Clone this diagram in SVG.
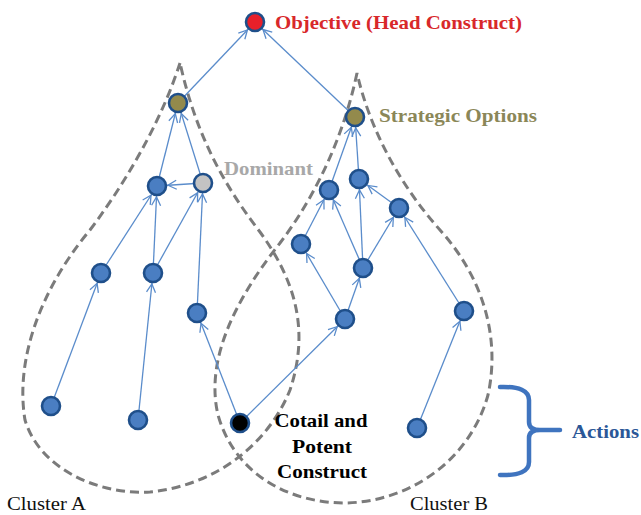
<svg xmlns="http://www.w3.org/2000/svg" width="641" height="515" viewBox="0 0 641 515">
<style>
.cl{fill:none;stroke:#7b7b7b;stroke-width:3;stroke-dasharray:9 5}
.e{fill:none;stroke:#5a8ccb;stroke-width:1.3;marker-end:url(#ah)}
.n{stroke:#1f4f8a;stroke-width:2.6}
.b{fill:#4a7ec2}
.t{font-family:"Liberation Serif","Times New Roman",serif;font-weight:bold;font-size:19px}
.r{font-family:"Liberation Serif","Times New Roman",serif;font-size:19px;fill:#111}
</style>
<defs>
<marker id="ah" markerUnits="userSpaceOnUse" markerWidth="30" markerHeight="12" viewBox="0 0 30 12" refX="19.5" refY="6" orient="auto" overflow="visible">
<path d="M0,1.5 L8.5,6 L0,10.5" fill="none" stroke="#5a8ccb" stroke-width="1.3"/>
</marker>
</defs>
<rect width="641" height="515" fill="#ffffff"/>
<g id="clusters">
<path id="clusterA" class="cl" d="M180,63 C165,110 135,170 90,230 C40,290 15,360 25,420 C40,470 100,495 150,492 C220,485 270,440 290,390 C310,330 295,280 260,232 C220,180 195,130 180,63 Z"/>
<path id="clusterB" class="cl" d="M357,73 C345,130 320,190 280,243 C235,300 205,360 218,415 C235,475 290,503 345,503 C410,502 470,460 488,395 C500,340 485,280 440,230 C400,185 370,130 357,73 Z"/>
</g>
<g id="connectors">
<line class="e" x1="178" y1="103" x2="255" y2="22"/>
<line class="e" x1="355" y1="117" x2="255" y2="22"/>
<line class="e" x1="157" y1="186" x2="178" y2="103"/>
<line class="e" x1="203" y1="183" x2="178" y2="103"/>
<line class="e" x1="203" y1="183" x2="157" y2="186"/>
<line class="e" x1="101" y1="273" x2="157" y2="186"/>
<line class="e" x1="153" y1="273" x2="157" y2="186"/>
<line class="e" x1="153" y1="273" x2="203" y2="183"/>
<line class="e" x1="197" y1="313" x2="203" y2="183"/>
<line class="e" x1="51" y1="406" x2="101" y2="273"/>
<line class="e" x1="138" y1="420" x2="153" y2="273"/>
<line class="e" x1="240" y1="423" x2="197" y2="313"/>
<line class="e" x1="240" y1="423" x2="345" y2="319"/>
<line class="e" x1="345" y1="319" x2="301" y2="244"/>
<line class="e" x1="345" y1="319" x2="363" y2="268"/>
<line class="e" x1="301" y1="244" x2="329" y2="190"/>
<line class="e" x1="363" y1="268" x2="329" y2="190"/>
<line class="e" x1="363" y1="268" x2="359" y2="179"/>
<line class="e" x1="363" y1="268" x2="399" y2="208"/>
<line class="e" x1="399" y1="208" x2="359" y2="179"/>
<line class="e" x1="464" y1="311" x2="399" y2="208"/>
<line class="e" x1="417" y1="428" x2="464" y2="311"/>
<line class="e" x1="329" y1="190" x2="355" y2="117"/>
<line class="e" x1="359" y1="179" x2="355" y2="117"/>
</g>
<g id="objective"><circle class="n" cx="255" cy="22" r="9" fill="#e8202a"/><text class="t" x="275" y="29" fill="#d8282a" textLength="247" lengthAdjust="spacingAndGlyphs">Objective (Head Construct)</text></g>
<g id="strategicA"><circle class="n" cx="178" cy="103" r="9" fill="#938a4c"/></g>
<g id="strategicB"><circle class="n" cx="355" cy="117" r="9" fill="#938a4c"/><text class="t" x="379" y="122" fill="#8b8758" font-size="18" textLength="158" lengthAdjust="spacingAndGlyphs">Strategic Options</text></g>
<g id="a1"><circle class="n b" cx="157" cy="186" r="9"/></g>
<g id="dominant"><circle class="n" cx="203" cy="183" r="9" fill="#c3c3c3"/><text class="t" x="224" y="175" fill="#a8a8a8" font-size="18" textLength="89" lengthAdjust="spacingAndGlyphs">Dominant</text></g>
<g id="a2"><circle class="n b" cx="101" cy="273" r="9"/></g>
<g id="a3"><circle class="n b" cx="153" cy="273" r="9"/></g>
<g id="a4"><circle class="n b" cx="197" cy="313" r="9"/></g>
<g id="a5"><circle class="n b" cx="51" cy="406" r="9"/></g>
<g id="a6"><circle class="n b" cx="138" cy="420" r="9"/></g>
<g id="cotail"><circle class="n" cx="240" cy="423" r="9" fill="#000"/>
<text class="t" fill="#000" text-anchor="middle"><tspan x="321" y="427" textLength="93" lengthAdjust="spacingAndGlyphs">Cotail and</tspan><tspan x="322" y="453" textLength="60" lengthAdjust="spacingAndGlyphs">Potent</tspan><tspan x="322" y="478" textLength="90" lengthAdjust="spacingAndGlyphs">Construct</tspan></text></g>
<g id="b1"><circle class="n b" cx="329" cy="190" r="9"/></g>
<g id="b2"><circle class="n b" cx="359" cy="179" r="9"/></g>
<g id="b3"><circle class="n b" cx="399" cy="208" r="9"/></g>
<g id="b4"><circle class="n b" cx="301" cy="244" r="9"/></g>
<g id="b5"><circle class="n b" cx="363" cy="268" r="9"/></g>
<g id="b6"><circle class="n b" cx="345" cy="319" r="9"/></g>
<g id="b7"><circle class="n b" cx="464" cy="311" r="9"/></g>
<g id="b8"><circle class="n b" cx="417" cy="428" r="9"/></g>
<g id="actions">
<path d="M500,387 Q529,386 529,400 L529,422 Q529,430 540,430 L560,430 M540,430 Q529,430 529,438 L529,462 Q529,476 500,475" fill="none" stroke="#3f74bf" stroke-width="4.5" stroke-linecap="round"/>
<text class="t" x="572" y="438" fill="#2b5797" textLength="67" lengthAdjust="spacingAndGlyphs">Actions</text>
</g>
<text class="r" x="7" y="510" textLength="79" lengthAdjust="spacingAndGlyphs">Cluster A</text>
<text class="r" x="410" y="510" textLength="78" lengthAdjust="spacingAndGlyphs">Cluster B</text>
</svg>
